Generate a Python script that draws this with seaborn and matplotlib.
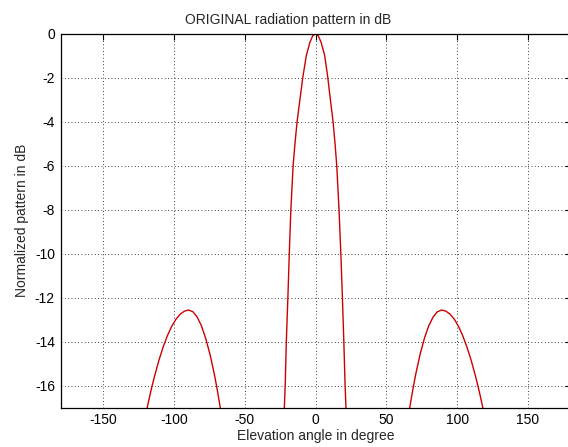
import numpy as np
import pandas as pd
import matplotlib
matplotlib.use('Agg')
import matplotlib.pyplot as plt
import seaborn as sns

# angles (deg) and normalized pattern (dB)
angles = [-180, -150, -135, -126, -120.5, -118.8, -117.5, -115.5, -113.5, -110.5,
          -107.5, -104.5, -101.5, -98.5, -95.5, -92.5, -89.5, -86.5, -83.5, -80.5,
          -77.5, -74.5, -71.5, -69.5, -67.2, -65.5, -62, -55,
          -45, -35, -28, -24.0, -22.0, -21.4, -20.6, -19.5, -18.5,
          -17.4, -15.8, -14.5, -13.0, -11.0, -9.0, -6.5, -4.0, -2.0, 0,
          2.0, 4.0, 6.5, 8.7, 10.5, 12.4, 13.8, 15.0, 16.6, 17.9,
          19.0, 20.0, 20.9, 21.5, 23.5, 28, 35, 45, 55, 62,
          65.0, 66.5, 69.0, 71.0, 74.0, 77.0, 80.0, 83.0, 86.0, 89.0,
          92.0, 95.0, 98.0, 101.0, 104.0, 107.0, 110.0, 113.0, 115.0, 117.0,
          118.1, 121.0, 126, 135, 150, 180]
pattern_db = [-40, -40, -30, -21, -17.8, -17, -16.61, -16.05, -15.54, -14.84,
              -14.23, -13.72, -13.30, -12.98, -12.75, -12.61, -12.56, -12.64, -12.88, -13.28,
              -13.85, -14.57, -15.45, -16.13, -17, -18.3, -22, -32,
              -40, -30, -22, -18.2, -17, -16, -14, -12, -10,
              -8, -6, -5, -4, -3, -2, -1, -0.4, -0.1, 0,
              -0.1, -0.4, -1, -2, -3, -4, -5, -6, -8, -10,
              -12, -14, -16, -17, -18.5, -23, -30, -40, -32, -22,
              -18.3, -17, -16.07, -15.40, -14.53, -13.82, -13.27, -12.88, -12.64, -12.56,
              -12.61, -12.75, -12.98, -13.31, -13.74, -14.26, -14.87, -15.58, -16.10, -16.67,
              -17, -18, -21, -30, -40, -40]

xticks = [-150, -100, -50, 0, 50, 100, 150]
yticks = [0, -2, -4, -6, -8, -10, -12, -14, -16]

df = pd.DataFrame({'angle': angles, 'db': pattern_db})

sns.set_style('white')
plt.rcParams['font.family'] = ['Liberation Sans', 'DejaVu Sans']
plt.rcParams['font.size'] = 10
plt.rcParams['axes.unicode_minus'] = False

fig = plt.figure(figsize=(5.68, 4.47), dpi=100)
ax = fig.add_axes([60.5 / 568, 1 - 407.7 / 447, (570.5 - 60.5) / 568, (407.7 - 33.7) / 447])

sns.lineplot(data=df, x='angle', y='db', ax=ax, color='#cc0000', linewidth=1.0,
             estimator=None, sort=False)

ax.set_xlim(-180, 180)
ax.set_ylim(-17, 0)
ax.set_xticks(xticks)
ax.set_yticks(yticks)

# matlab-ish box, inward ticks and dotted grid
for s in ax.spines.values():
    s.set_color('black')
    s.set_linewidth(0.9)
ax.tick_params(direction='in', length=4, width=0.8, top=True, right=True,
               labelsize=10, colors='black', pad=4)
ax.grid(True, color='black', linestyle=(0, (1, 3)), linewidth=0.6)

# title sits a bit left of the axes centre in the original
ax.set_title('ORIGINAL radiation pattern in dB', fontsize=10, pad=7,
             x=(288.5 - 60.5) / 510)
ax.set_xlabel('Elevation angle in degree', fontsize=10, labelpad=1)
ax.set_ylabel('Normalized pattern in dB', fontsize=10, labelpad=4)

fig.savefig('out.png', dpi=100)
